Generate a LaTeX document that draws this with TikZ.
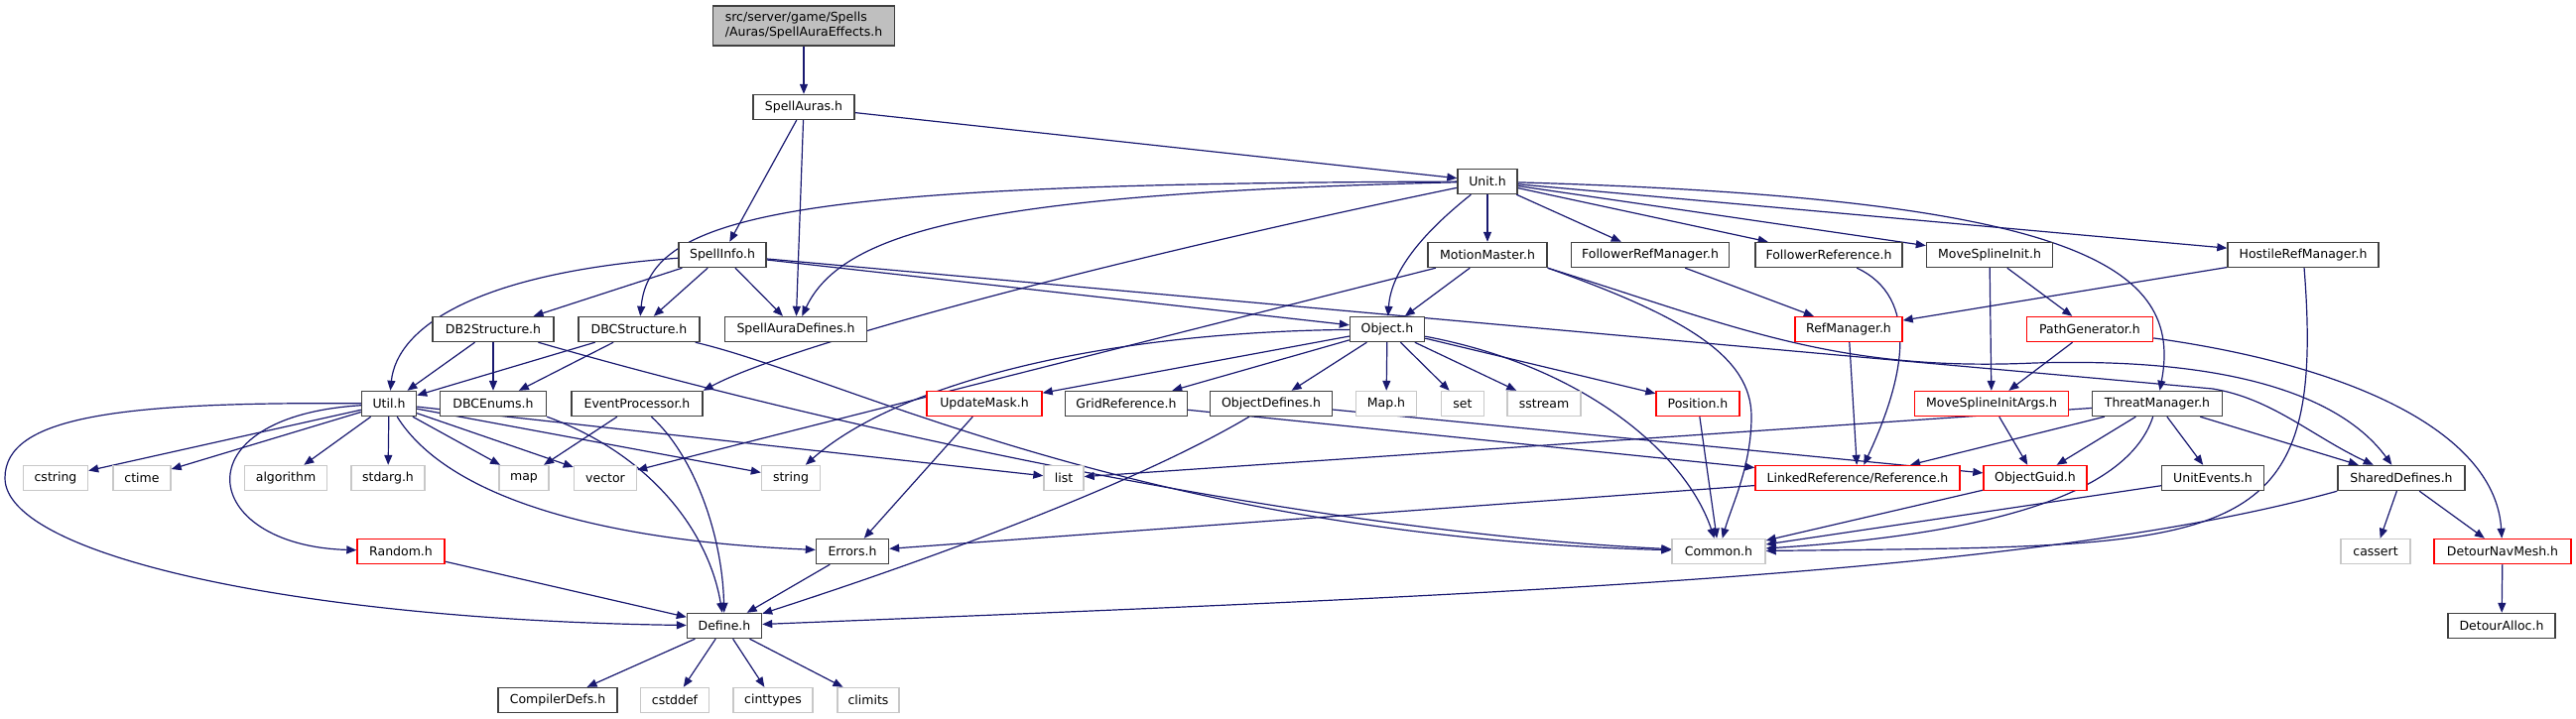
\documentclass[tikz,border=0pt]{standalone}
\usepackage{fontspec}
\setmainfont{DejaVu Sans}
\usetikzlibrary{arrows.meta}

\definecolor{edgeblue}{HTML}{191970}
\definecolor{sysgray}{HTML}{C8C8C8}
\definecolor{truncred}{HTML}{FF0000}
\definecolor{framegray}{HTML}{404040}
\definecolor{rootfill}{HTML}{BFBFBF}

\pgfdeclarelayer{edges}
\pgfsetlayers{edges,main}

\tikzset{
  hdr/.style={draw=framegray, line width=1.4pt, fill=white, minimum height=25pt,
    inner xsep=0pt, inner ysep=0pt, font=\fontsize{12.5}{15}\selectfont},
  hdrred/.style={hdr, draw=truncred},
  hdrsys/.style={hdr, draw=sysgray},
  inc/.style={draw=edgeblue, line width=1.2pt, -{Triangle[length=10pt,width=8pt]}},
}

\begin{document}
\begin{tikzpicture}[x=1pt,y=-1pt]
\useasboundingbox (0,0) rectangle (2596,724);

% Files, row by row
\node[hdr, fill=rootfill, minimum width=183pt, minimum height=40pt, align=left] (root) at (810,26) {src/server/game/Spells\\/Auras/SpellAuraEffects.h};
\node[hdr, minimum width=102pt] (auras) at (810,108) {SpellAuras.h};

\node[hdr, minimum width=60pt] (unit) at (1499,183) {Unit.h};

\node[hdr, minimum width=88pt] (info) at (728,257) {SpellInfo.h};
\node[hdr, minimum width=120pt] (motion) at (1499,257) {MotionMaster.h};
\node[hdr, minimum width=159pt] (followmgr) at (1663,257) {FollowerRefManager.h};
\node[hdr, minimum width=148pt] (followref) at (1843,257) {FollowerReference.h};
\node[hdr, minimum width=127pt] (splineinit) at (2005,257) {MoveSplineInit.h};
\node[hdr, minimum width=152pt] (hostilemgr) at (2321,257) {HostileRefManager.h};

\node[hdr, minimum width=122pt] (db2) at (497,332) {DB2Structure.h};
\node[hdr, minimum width=122pt] (dbc) at (644,332) {DBCStructure.h};
\node[hdr, minimum width=143pt] (auradefs) at (802,332) {SpellAuraDefines.h};
\node[hdr, minimum width=75pt] (object) at (1398,332) {Object.h};
\node[hdrred, minimum width=108pt] (refmgr) at (1863,332) {RefManager.h};
\node[hdrred, minimum width=127pt] (pathgen) at (2106,332) {PathGenerator.h};

\node[hdr, minimum width=55pt] (util) at (392,407) {Util.h};
\node[hdr, minimum width=107pt] (dbcenums) at (497,407) {DBCEnums.h};
\node[hdr, minimum width=132pt] (evproc) at (642,407) {EventProcessor.h};
\node[hdrred, minimum width=116pt] (updmask) at (992,407) {UpdateMask.h};
\node[hdr, minimum width=123pt] (gridref) at (1135,407) {GridReference.h};
\node[hdr, minimum width=123pt] (objdefs) at (1281,407) {ObjectDefines.h};
\node[hdrsys, minimum width=61pt] (maph) at (1397,407) {Map.h};
\node[hdrsys, minimum width=43pt] (set) at (1474,407) {set};
\node[hdrsys, minimum width=74pt] (sstream) at (1556,407) {sstream};
\node[hdrred, minimum width=84pt] (position) at (1711,407) {Position.h};
\node[hdrred, minimum width=155pt] (splineargs) at (2007,407) {MoveSplineInitArgs.h};
\node[hdr, minimum width=131pt] (threat) at (2174,407) {ThreatManager.h};

\node[hdrsys, minimum width=65pt] (cstring) at (56,482) {cstring};
\node[hdrsys, minimum width=58pt] (ctime) at (143,482) {ctime};
\node[hdrsys, minimum width=83pt] (algorithm) at (288,482) {algorithm};
\node[hdrsys, minimum width=74pt] (stdarg) at (391,482) {stdarg.h};
\node[hdrsys, minimum width=50pt] (map) at (528,482) {map};
\node[hdrsys, minimum width=63pt] (vector) at (610,482) {vector};
\node[hdrsys, minimum width=59pt] (string) at (797,482) {string};
\node[hdrsys, minimum width=40pt] (list) at (1072,482) {list};
\node[hdrred, minimum width=206pt] (linkref) at (1872,482) {LinkedReference/Reference.h};
\node[hdrred, minimum width=104pt] (guid) at (2051,482) {ObjectGuid.h};
\node[hdr, minimum width=103pt] (uevents) at (2230,482) {UnitEvents.h};
\node[hdr, minimum width=128pt] (shared) at (2420,482) {SharedDefines.h};

\node[hdrred, minimum width=88pt] (random) at (404,556) {Random.h};
\node[hdr, minimum width=73pt] (errors) at (859,556) {Errors.h};
\node[hdrsys, minimum width=94pt] (common) at (1732,556) {Common.h};
\node[hdrsys, minimum width=70pt] (cassert) at (2394,556) {cassert};
\node[hdrred, minimum width=138pt] (navmesh) at (2522,556) {DetourNavMesh.h};

\node[hdr, minimum width=75pt] (define) at (730,631) {Define.h};
\node[hdr, minimum width=108pt] (alloc) at (2521,631) {DetourAlloc.h};

\node[hdr, minimum width=120pt] (compdefs) at (562,706) {CompilerDefs.h};
\node[hdrsys, minimum width=69pt] (cstddef) at (680,706) {cstddef};
\node[hdrsys, minimum width=80pt] (cinttypes) at (779,706) {cinttypes};
\node[hdrsys, minimum width=62pt] (climits) at (875,706) {climits};

\begin{pgfonlayer}{edges}
% Includes from the top
\draw[inc] (root) -- (auras);
\draw[inc] (auras) -- (info);
\draw[inc] (auras) -- (auradefs);
\draw[inc] (auras) -- (unit);

% Unit.h
\draw[inc] (unit) .. controls (800,185) and (655,215) .. (dbc);
\draw[inc] (unit) .. controls (1000,195) and (850,230) .. (auradefs);
\draw[inc] (unit) .. controls (1150,255) and (800,345) .. (evproc.north east);
\draw[inc] (unit) .. controls (1440,230) and (1402,270) .. (object);
\draw[inc] (unit) -- (motion);
\draw[inc] (unit) -- (followmgr);
\draw[inc] (unit) -- (followref);
\draw[inc] (unit) -- (splineinit);
\draw[inc] (unit) -- (hostilemgr);
\draw[inc] (unit) .. controls (2100,200) and (2200,270) .. (threat);

% SpellInfo.h
\draw[inc] (info) -- (db2);
\draw[inc] (info) -- (dbc);
\draw[inc] (info) -- (auradefs);
\draw[inc] (info) .. controls (480,275) and (400,330) .. (util);
\draw[inc] (info) -- (object);
\draw[inc] (info) -- (2230,392) .. controls (2290,402) and (2330,440) .. (shared);

% MotionMaster.h and the reference managers
\draw[inc] (motion) -- (object);
\draw[inc] (motion) -- (vector);
\draw[inc] (motion.south east) .. controls (1700,320) and (1765,360) .. (1765,420) .. controls (1765,470) and (1745,510) .. (common);
\draw[inc] (motion.south east) .. controls (1750,330) and (1850,375) .. (2050,366) .. controls (2250,360) and (2360,400) .. (shared);
\draw[inc] (followmgr) -- (refmgr);
\draw[inc] (followref) .. controls (1935,300) and (1920,380) .. (linkref);
\draw[inc] (splineinit) -- (splineargs);
\draw[inc] (splineinit) -- (pathgen);
\draw[inc] (hostilemgr) -- (refmgr);
\draw[inc] (hostilemgr) .. controls (2345,560) and (2250,550) .. (common);
\draw[inc] (refmgr) -- (linkref);

% DB2/DBC structures
\draw[inc] (db2) -- (util);
\draw[inc] (db2) -- (dbcenums);
\draw[inc] (db2) .. controls (800,420) and (1300,535) .. (common);
\draw[inc] (dbc) -- (util);
\draw[inc] (dbc) -- (dbcenums);
\draw[inc] (dbc) .. controls (850,380) and (1150,540) .. (common);

% Object.h
\draw[inc] (object) .. controls (1100,335) and (900,390) .. (string);
\draw[inc] (object) -- (updmask);
\draw[inc] (object) -- (gridref);
\draw[inc] (object) -- (objdefs);
\draw[inc] (object) -- (maph);
\draw[inc] (object) -- (set);
\draw[inc] (object) -- (sstream);
\draw[inc] (object) -- (position);
\draw[inc] (object) .. controls (1600,370) and (1700,460) .. (common);
\draw[inc] (pathgen) -- (splineargs);
\draw[inc] (pathgen) .. controls (2380,370) and (2515,440) .. (navmesh);

% Util.h
\draw[inc] (util) -- (cstring);
\draw[inc] (util) -- (ctime);
\draw[inc] (util) -- (algorithm);
\draw[inc] (util) -- (stdarg);
\draw[inc] (util) -- (map);
\draw[inc] (util) -- (vector);
\draw[inc] (util) -- (string);
\draw[inc] (util) -- (list);
\draw[inc] (util) .. controls (180,420) and (200,550) .. (random);
\draw[inc] (util) .. controls (120,405) and (5,420) .. (5,482) .. controls (5,560) and (300,625) .. (define);
\draw[inc] (util) .. controls (450,500) and (600,545) .. (errors);

% middle rows
\draw[inc] (dbcenums.south east) .. controls (660,460) and (715,540) .. (define);
\draw[inc] (evproc) -- (map);
\draw[inc] (evproc) .. controls (700,460) and (728,540) .. (define);
\draw[inc] (updmask) -- (errors);
\draw[inc] (gridref) -- (linkref);
\draw[inc] (objdefs) -- (guid);
\draw[inc] (objdefs) .. controls (1150,485) and (950,560) .. (define);
\draw[inc] (position) -- (common);
\draw[inc] (splineargs) -- (guid);
\draw[inc] (threat) -- (list);
\draw[inc] (threat) -- (linkref);
\draw[inc] (threat) -- (guid);
\draw[inc] (threat) -- (uevents);
\draw[inc] (threat) -- (shared);
\draw[inc] (threat) .. controls (2150,480) and (2060,535) .. (common);

% lower rows
\draw[inc] (linkref) -- (errors);
\draw[inc] (guid) -- (common);
\draw[inc] (uevents) -- (common);
\draw[inc] (shared) -- (cassert);
\draw[inc] (shared) -- (navmesh);
\draw[inc] (shared.south west) .. controls (2050,580) and (1500,600) .. (define);
\draw[inc] (random) -- (define);
\draw[inc] (errors) -- (define);
\draw[inc] (navmesh) -- (alloc);
\draw[inc] (define) -- (compdefs);
\draw[inc] (define) -- (cstddef);
\draw[inc] (define) -- (cinttypes);
\draw[inc] (define) -- (climits);
\end{pgfonlayer}

\end{tikzpicture}
\end{document}
